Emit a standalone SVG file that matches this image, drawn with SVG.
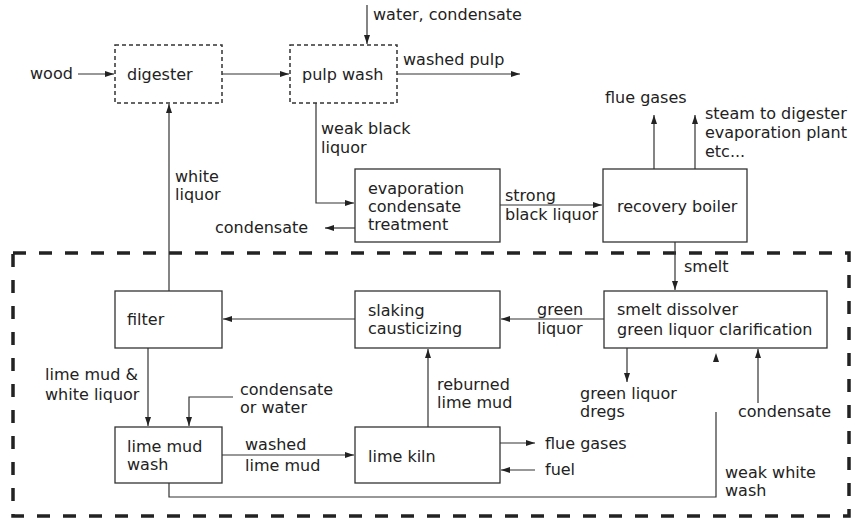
<svg xmlns="http://www.w3.org/2000/svg" width="852" height="519" viewBox="0 0 852 519">
<defs>
<style>
text{font-family:"DejaVu Sans","Liberation Sans",sans-serif;font-size:16px;fill:#222}
.box{fill:none;stroke:#333;stroke-width:1.3}
.dbox{fill:none;stroke:#333;stroke-width:1.5;stroke-dasharray:4 3}
.c{fill:none;stroke:#333;stroke-width:1.2}
.a{marker-end:url(#ah)}
.enc{fill:none;stroke:#222;stroke-width:3.5;stroke-dasharray:13 13}
</style>
<marker id="ah" markerUnits="userSpaceOnUse" markerWidth="10" markerHeight="8" refX="9" refY="3" orient="auto">
<path d="M0,0 L9,3 L0,6 z" fill="#222"/>
</marker>
</defs>
<rect class="enc" x="13" y="253" width="836" height="263"/>
<g id="connectors">
<path class="c a" d="M78,74 H114"/>
<path class="c a" d="M222,74 H289"/>
<path class="c a" d="M367,5 V44"/>
<path class="c a" d="M397,74 H520"/>
<path class="c a" d="M316,103 V203 H354"/>
<path class="c a" d="M355,228 H325"/>
<path class="c a" d="M169,291 V104"/>
<path class="c a" d="M500,205 H602"/>
<path class="c a" d="M654,169 V115"/>
<path class="c a" d="M695,169 V115"/>
<path class="c a" d="M675,242 V290"/>
<path class="c a" d="M604,319 H501"/>
<path class="c a" d="M355,319 H223"/>
<path class="c a" d="M148,348 V426"/>
<path class="c a" d="M233,397 H189 V426"/>
<path class="c a" d="M222,455 H354"/>
<path class="c a" d="M428,427 V349"/>
<path class="c a" d="M500,443 H535"/>
<path class="c a" d="M535,470 H501"/>
<path class="c a" d="M627,348 V382"/>
<path class="c" d="M169,483 V497 H716 V412"/>
<path d="M716,353 L719,362 L713,362 z" fill="#222"/>
<path class="c a" d="M758,403 V349"/>
</g>
<g id="digester"><rect class="dbox" x="115" y="45" width="107" height="58"/><text x="127" y="80">digester</text></g>
<g id="pulpwash"><rect class="dbox" x="290" y="45" width="107" height="58"/><text x="302" y="80">pulp wash</text></g>
<g id="evaporation"><rect class="box" x="355" y="169" width="145" height="73"/><text x="368" y="194">evaporation</text><text x="368" y="212">condensate</text><text x="368" y="230">treatment</text></g>
<g id="recovery"><rect class="box" x="603" y="169" width="144" height="73"/><text x="617" y="212">recovery boiler</text></g>
<g id="smeltdissolver"><rect class="box" x="604" y="291" width="223" height="57"/><text x="617" y="315">smelt dissolver</text><text x="617" y="335">green liquor clarification</text></g>
<g id="slaking"><rect class="box" x="355" y="291" width="145" height="57"/><text x="368" y="316">slaking</text><text x="368" y="334">causticizing</text></g>
<g id="filter"><rect class="box" x="115" y="291" width="107" height="57"/><text x="127" y="325">filter</text></g>
<g id="limemudwash"><rect class="box" x="115" y="427" width="107" height="56"/><text x="127" y="452">lime mud</text><text x="127" y="470">wash</text></g>
<g id="limekiln"><rect class="box" x="355" y="427" width="145" height="56"/><text x="368" y="462">lime kiln</text></g>
<g id="labels">
<text x="30" y="79">wood</text>
<text x="373" y="20">water, condensate</text>
<text x="403" y="65">washed pulp</text>
<text x="321" y="134">weak black</text>
<text x="321" y="153">liquor</text>
<text x="215" y="233">condensate</text>
<text x="175" y="182">white</text>
<text x="175" y="200">liquor</text>
<text x="505" y="201">strong</text>
<text x="505" y="220">black liquor</text>
<text x="605" y="103">flue gases</text>
<text x="705" y="119">steam to digester</text>
<text x="705" y="138">evaporation plant</text>
<text x="705" y="157">etc...</text>
<text x="684" y="272">smelt</text>
<text x="537" y="315">green</text>
<text x="537" y="334">liquor</text>
<text x="45" y="380">lime mud &amp;</text>
<text x="45" y="400">white liquor</text>
<text x="240" y="395">condensate</text>
<text x="240" y="413">or water</text>
<text x="245" y="450">washed</text>
<text x="245" y="471">lime mud</text>
<text x="437" y="390">reburned</text>
<text x="437" y="408">lime mud</text>
<text x="545" y="449">flue gases</text>
<text x="545" y="475">fuel</text>
<text x="580" y="399">green liquor</text>
<text x="580" y="417">dregs</text>
<text x="725" y="478">weak white</text>
<text x="725" y="496">wash</text>
<text x="738" y="417">condensate</text>
</g>
</svg>
